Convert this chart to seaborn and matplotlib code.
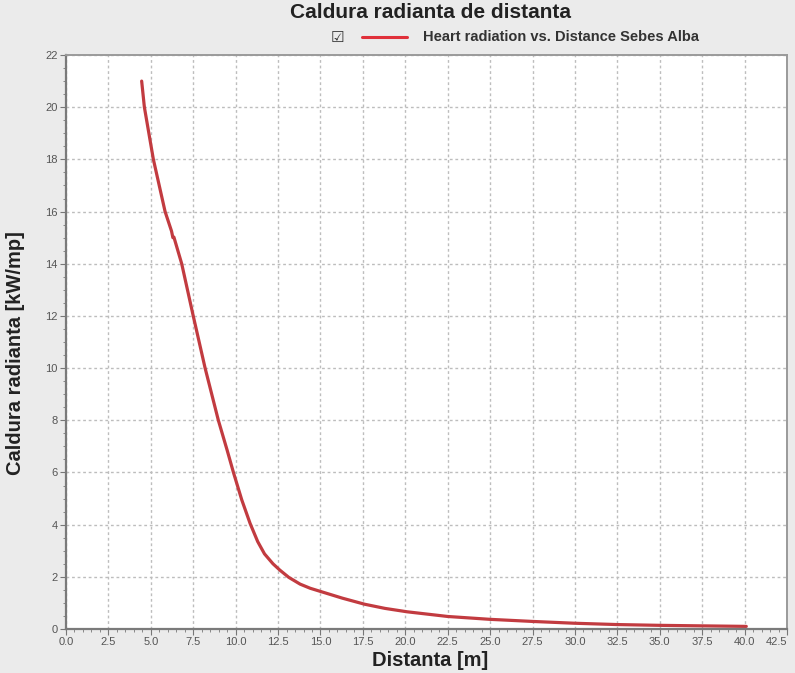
import matplotlib
matplotlib.use("Agg")
import matplotlib.pyplot as plt
from matplotlib.ticker import AutoMinorLocator
from matplotlib.lines import Line2D
import seaborn as sns
import pandas as pd

# ---- data ----
distance = [4.46, 4.62, 5.15, 5.84, 6.22, 6.30, 6.36, 6.82, 7.50, 8.20, 8.98,
            9.50, 9.87, 10.36, 10.85, 11.30, 11.70, 12.20, 12.60, 13.13, 13.80,
            14.40, 15.10, 16.30, 17.60, 18.80, 20.10, 22.50, 25.00, 27.50,
            30.00, 32.50, 35.00, 37.50, 40.10]
radiation = [21.0, 20.0, 18.0, 16.0, 15.25, 15.00, 15.02, 14.0, 12.0, 10.0, 8.0,
             6.85, 6.0, 4.95, 4.05, 3.35, 2.88, 2.5, 2.26, 1.98, 1.72,
             1.56, 1.42, 1.18, 0.95, 0.79, 0.66, 0.48, 0.37, 0.29,
             0.22, 0.17, 0.14, 0.12, 0.10]
x_ticks = [0.0, 2.5, 5.0, 7.5, 10.0, 12.5, 15.0, 17.5, 20.0, 22.5, 25.0,
           27.5, 30.0, 32.5, 35.0, 37.5, 40.0, 42.5]
y_ticks = [0, 2, 4, 6, 8, 10, 12, 14, 16, 18, 20, 22]

title = "Caldura radianta de distanta"
series_name = "Heart radiation vs. Distance Sebes Alba"
xlabel = "Distanta [m]"
ylabel = "Caldura radianta [kW/mp]"

df = pd.DataFrame({"Distanta": distance, "Caldura": radiation})

sns.set_style("white")
plt.rcParams["font.family"] = ["Liberation Sans", "DejaVu Sans"]

W, H = 795, 673
fig = plt.figure(figsize=(W / 100, H / 100), dpi=100, facecolor="#ebebeb")
ax = fig.add_axes([66 / W, 1 - 629 / H, (787 - 66) / W, (629 - 55) / H])
ax.set_facecolor("white")

line_color = "#c23b40"
sns.lineplot(data=df, x="Distanta", y="Caldura", ax=ax, color=line_color,
             lw=2.3, estimator=None, sort=False)
ax.lines[0].set_solid_joinstyle("round")

ax.set_xlim(0, 42.5)
ax.set_ylim(0, 22)
ax.set_xticks(x_ticks)
ax.set_xticklabels([f"{v:.1f}" for v in x_ticks])
ax.set_yticks(y_ticks)
ax.set_yticklabels([str(v) for v in y_ticks])
ax.xaxis.set_minor_locator(AutoMinorLocator(5))
ax.yaxis.set_minor_locator(AutoMinorLocator(4))

ax.grid(True, which="major", color="#bdbdbd", linestyle=(0, (2, 2)), lw=1.0)
ax.tick_params(axis="both", which="major", labelsize=8, labelcolor="#555555",
               color="#777777", length=4, width=0.8, direction="out", pad=2)
ax.tick_params(axis="both", which="minor", color="#888888", length=2,
               width=0.7, direction="out")
ax.tick_params(axis="x", which="both", bottom=True)
ax.tick_params(axis="y", which="both", left=True)
for lbl in ax.get_xticklabels():
    if lbl.get_text() == "42.5":
        lbl.set_horizontalalignment("right")

for side in ["left", "bottom"]:
    ax.spines[side].set_color("#7a7a7a")
    ax.spines[side].set_linewidth(1.6)
for side in ["top", "right"]:
    ax.spines[side].set_color("#9a9a9a")
    ax.spines[side].set_linewidth(1.4)

ax.set_xlabel("")
ax.set_ylabel("")
fig.text(430 / W, 1 - 660 / H, xlabel, ha="center", va="center",
         fontsize=14.5, fontweight="bold", color="#222222")
fig.text(16 / W, 1 - 353 / H, ylabel, ha="center", va="center",
         rotation=90, fontsize=14.5, fontweight="bold", color="#222222")

fig.text(430 / W, 1 - 12 / H, title, ha="center", va="center",
         fontsize=15, fontweight="bold", color="#222222")

# legend row
fig.text(337 / W, 1 - 37 / H, "\u2611", ha="center", va="center",
         fontsize=11, color="#333333", family=["DejaVu Sans"])
fig.add_artist(Line2D([362 / W, 407 / W], [1 - 37 / H, 1 - 37 / H],
                      transform=fig.transFigure, color="#e0303a", lw=2.2))
fig.text(423 / W, 1 - 37 / H, series_name, ha="left", va="center",
         fontsize=10.5, fontweight="bold", color="#333333")

fig.savefig("out.png", dpi=100, facecolor=fig.get_facecolor())
